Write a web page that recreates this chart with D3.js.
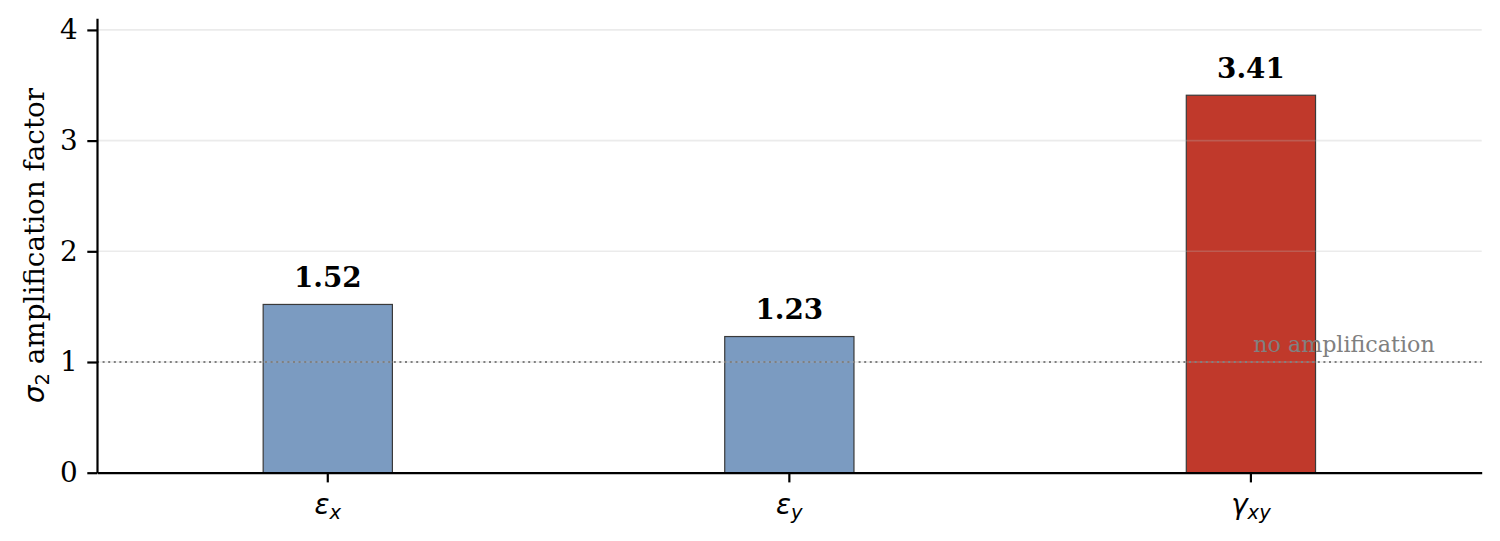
<!DOCTYPE html>
<html lang="en">
<head>
    <meta charset="UTF-8">
    <title>sigma2 amplification</title>
    <style>
        body{
            margin: 0;
            background: #fff;
        }
        svg{
            display: block;
        }
        .tick text{
            font-family: "DejaVu Serif", serif;
            font-size: 27.8px;
            fill: #000;
        }
    </style>
    <script src="https://cdn.jsdelivr.net/npm/d3@7"></script>
</head>
<body>
<script>
    // data
    const categories = ["ex", "ey", "gxy"]
    const symbols = ["ε", "ε", "γ"]
    const subscripts = ["x", "y", "xy"]
    const values = [1.52, 1.23, 3.41]
    const barColors = ["#7b9bc1", "#7b9bc1", "#c0392b"]
    const yTicks = [0, 1, 2, 3, 4]
    const refValue = 1
    const refLabel = "no amplification"

    const width = 1500
    const height = 541
    const margin = {left: 97, right: 18.3, top: 18.3, bottom: 68.3}

    let svg = d3.select("body").append("svg")
        .attr("width", width)
        .attr("height", height)
        .attr("viewBox", `0 0 ${width} ${height}`)

    const x = d3.scaleBand()
        .domain(categories)
        .range([margin.left, width - margin.right])
        .paddingInner(0.72)
        .paddingOuter(0.36)

    const y = d3.scaleLinear()
        .domain([0, 4.105])
        .range([height - margin.bottom, margin.top])

    // bars
    svg.append("g").selectAll("rect")
        .data(values)
        .enter()
        .append("rect")
        .attr("x", (d, i) => x(categories[i]))
        .attr("width", x.bandwidth())
        .attr("y", d => y(d))
        .attr("height", d => y(0) - y(d))
        .attr("fill", (d, i) => barColors[i])
        .attr("stroke", "#3a3a3a")
        .attr("stroke-width", 1.2)

    // grid (sits over the bars, faint)
    svg.append("g").selectAll("line")
        .data(yTicks.filter(t => t > 0))
        .enter()
        .append("line")
        .attr("x1", margin.left)
        .attr("x2", width - margin.right)
        .attr("y1", d => y(d))
        .attr("y2", d => y(d))
        .attr("stroke", "#b8b8b8")
        .attr("stroke-opacity", 0.28)
        .attr("stroke-width", 1.6)

    // reference line at 1
    svg.append("line")
        .attr("x1", margin.left)
        .attr("x2", width - margin.right)
        .attr("y1", y(refValue))
        .attr("y2", y(refValue))
        .attr("stroke", "#808080")
        .attr("stroke-width", 2)
        .attr("stroke-dasharray", "2 3.6")

    svg.append("text")
        .attr("x", x.range()[1] - 47)
        .attr("y", y(refValue) - 10)
        .attr("text-anchor", "end")
        .attr("font-family", "DejaVu Serif, serif")
        .attr("font-size", 22.2)
        .attr("fill", "#808080")
        .text(refLabel)

    // value labels
    svg.append("g").selectAll("text")
        .data(values)
        .enter()
        .append("text")
        .attr("x", (d, i) => x(categories[i]) + x.bandwidth() / 2)
        .attr("y", d => y(d) - 17.5)
        .attr("text-anchor", "middle")
        .attr("font-family", "DejaVu Serif, serif")
        .attr("font-weight", "bold")
        .attr("font-size", 27.8)
        .attr("fill", "#000")
        .text(d => d.toFixed(2))

    // axes
    let gy = svg.append("g")
        .attr("transform", `translate(${margin.left},0)`)
        .call(d3.axisLeft(y).tickValues(yTicks).tickFormat(d3.format("d"))
            .tickSize(9.7).tickSizeOuter(0).tickPadding(9.7))
    gy.select(".domain").attr("stroke-width", 2.2)
    gy.selectAll(".tick line").attr("stroke-width", 2.2)

    let gx = svg.append("g")
        .attr("transform", `translate(0,${height - margin.bottom})`)
        .call(d3.axisBottom(x).tickFormat("").tickSize(9.7).tickSizeOuter(0))
    gx.select(".domain").attr("stroke-width", 2.2)
    gx.selectAll(".tick line").attr("stroke-width", 2.2)

    // math style x labels
    let xl = svg.append("g").selectAll("text")
        .data(categories)
        .enter()
        .append("text")
        .attr("x", d => x(d) + x.bandwidth() / 2)
        .attr("y", 514.3)
        .attr("text-anchor", "middle")
        .attr("font-family", "DejaVu Sans, sans-serif")
        .attr("font-style", "italic")
        .attr("font-size", 27.8)
        .attr("fill", "#000")
    xl.append("tspan").text((d, i) => symbols[i])
    xl.append("tspan")
        .attr("dy", 5)
        .attr("font-size", 19.5)
        .text((d, i) => subscripts[i])

    // y label
    let yl = svg.append("text")
        .attr("transform", `translate(44,${(y(0) + y(4.105)) / 2}) rotate(-90)`)
        .attr("text-anchor", "middle")
        .attr("font-family", "DejaVu Serif, serif")
        .attr("font-size", 27.8)
        .attr("fill", "#000")
    yl.append("tspan").attr("font-family", "DejaVu Sans, sans-serif")
        .attr("font-style", "italic").text("σ")
    yl.append("tspan").attr("font-family", "DejaVu Sans, sans-serif")
        .attr("font-size", 19.5).attr("dy", 5).text("2")
    yl.append("tspan").attr("dy", -5).text(" amplification factor")
</script>
</body>
</html>
